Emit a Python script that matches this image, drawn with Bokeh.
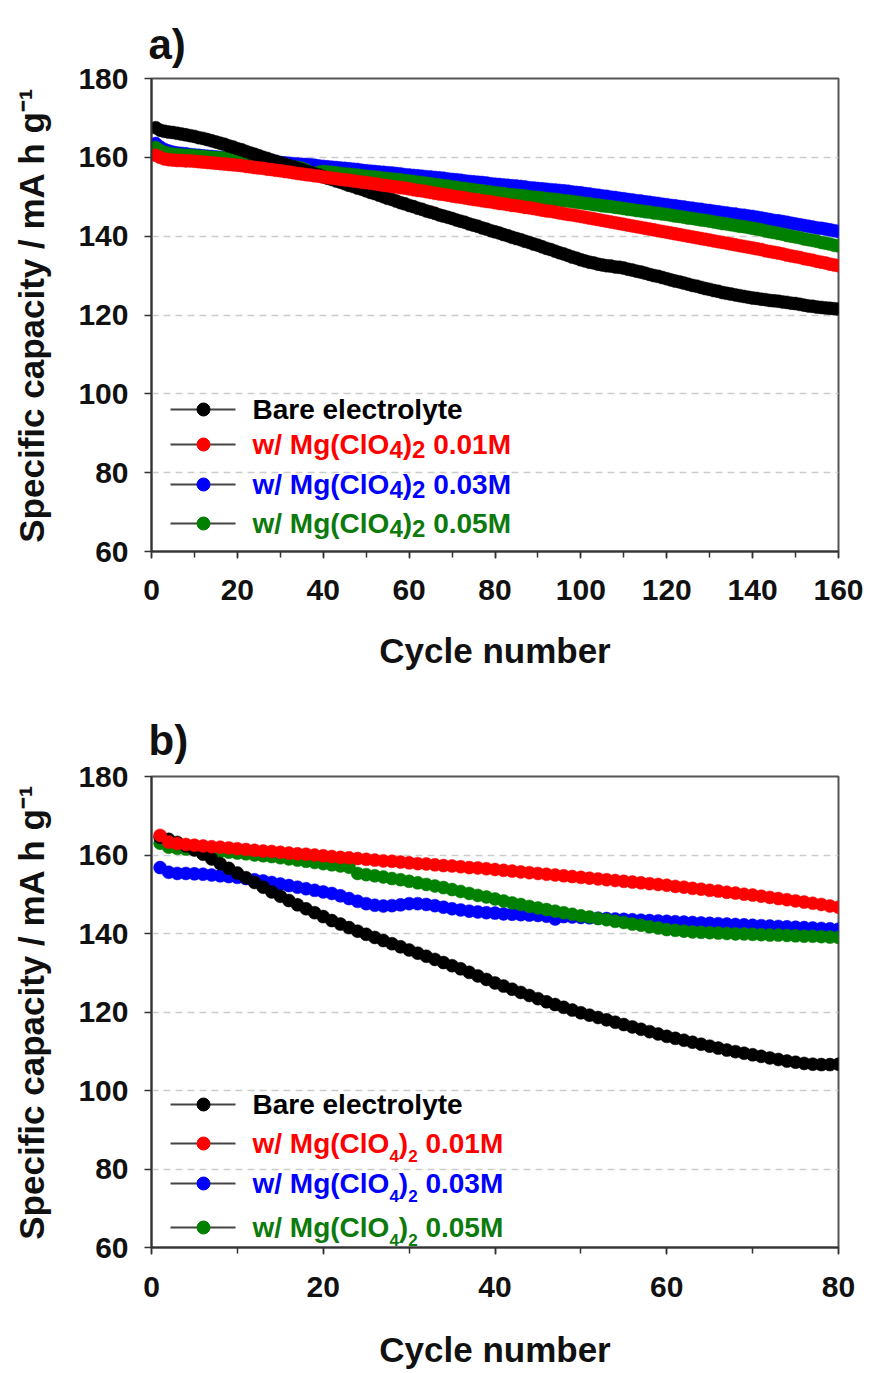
from bokeh.plotting import figure
from bokeh.layouts import column
from bokeh.models import Range1d, SingleIntervalTicker, FixedTicker, ColumnDataSource
from bokeh.core.properties import value
from bokeh.embed import file_html
from bokeh.resources import INLINE

# ---------------- data ----------------
cycles_a = list(range(1, 161))
bare_a = [
    167.5, 166.9, 166.6, 166.4, 166.3, 166.1, 165.9, 165.7, 165.5, 165.3,
    165.0, 164.8, 164.5, 164.2, 163.9, 163.6, 163.3, 162.9, 162.6, 162.2,
    161.9, 161.5, 161.1, 160.8, 160.4, 160.0, 159.7, 159.3, 159.0, 158.6,
    158.3, 157.9, 157.6, 157.2, 156.9, 156.5, 156.2, 155.8, 155.5, 155.1,
    154.7, 154.4, 154.0, 153.7, 153.3, 152.9, 152.6, 152.2, 151.9, 151.5,
    151.1, 150.8, 150.4, 150.0, 149.6, 149.3, 148.9, 148.5, 148.2, 147.8,
    147.5, 147.1, 146.8, 146.4, 146.1, 145.8, 145.4, 145.1, 144.8, 144.5,
    144.1, 143.8, 143.5, 143.1, 142.8, 142.5, 142.1, 141.8, 141.4, 141.1,
    140.8, 140.4, 140.1, 139.7, 139.4, 139.1, 138.7, 138.4, 138.0, 137.7,
    137.3, 136.9, 136.6, 136.2, 135.8, 135.5, 135.1, 134.7, 134.4, 134.0,
    133.7, 133.4, 133.2, 132.9, 132.7, 132.5, 132.4, 132.2, 132.1, 131.9,
    131.6, 131.4, 131.1, 130.9, 130.6, 130.3, 130.0, 129.8, 129.5, 129.2,
    128.9, 128.6, 128.4, 128.1, 127.8, 127.5, 127.3, 127.0, 126.7, 126.5,
    126.2, 126.0, 125.7, 125.5, 125.3, 125.1, 124.9, 124.7, 124.5, 124.3,
    124.2, 124.0, 123.9, 123.7, 123.6, 123.5, 123.3, 123.2, 123.0, 122.9,
    122.7, 122.5, 122.3, 122.2, 122.0, 121.9, 121.8, 121.7, 121.6, 121.5,
]
mg001_a = [
    160.5, 160.0, 159.6, 159.4, 159.3, 159.2, 159.2, 159.1, 159.1, 159.0,
    158.9, 158.8, 158.7, 158.6, 158.5, 158.4, 158.3, 158.2, 158.1, 158.0,
    157.9, 157.7, 157.6, 157.4, 157.3, 157.2, 157.0, 156.9, 156.7, 156.6,
    156.4, 156.3, 156.1, 155.9, 155.8, 155.6, 155.5, 155.3, 155.2, 155.0,
    154.9, 154.7, 154.6, 154.4, 154.3, 154.2, 154.0, 153.9, 153.7, 153.6,
    153.4, 153.3, 153.1, 152.9, 152.8, 152.6, 152.5, 152.3, 152.2, 152.0,
    151.8, 151.6, 151.5, 151.3, 151.1, 150.9, 150.7, 150.6, 150.4, 150.2,
    150.0, 149.9, 149.7, 149.5, 149.3, 149.2, 149.0, 148.8, 148.7, 148.5,
    148.3, 148.2, 148.0, 147.8, 147.7, 147.5, 147.3, 147.2, 147.0, 146.8,
    146.6, 146.4, 146.3, 146.1, 145.9, 145.7, 145.5, 145.4, 145.2, 145.0,
    144.8, 144.6, 144.4, 144.2, 144.0, 143.8, 143.6, 143.4, 143.2, 143.0,
    142.8, 142.6, 142.4, 142.2, 142.0, 141.8, 141.6, 141.4, 141.2, 141.0,
    140.8, 140.6, 140.4, 140.2, 140.0, 139.8, 139.6, 139.4, 139.2, 139.0,
    138.8, 138.6, 138.4, 138.2, 138.0, 137.8, 137.6, 137.4, 137.2, 137.0,
    136.8, 136.6, 136.3, 136.1, 135.9, 135.7, 135.5, 135.2, 135.0, 134.8,
    134.6, 134.3, 134.1, 133.9, 133.6, 133.4, 133.2, 132.9, 132.7, 132.5,
]
mg003_a = [
    163.5, 162.6, 162.0, 161.6, 161.3, 161.1, 161.0, 160.9, 160.7, 160.6,
    160.5, 160.4, 160.3, 160.2, 160.1, 160.0, 159.9, 159.8, 159.7, 159.6,
    159.5, 159.4, 159.3, 159.2, 159.1, 159.1, 159.0, 158.9, 158.8, 158.7,
    158.6, 158.5, 158.4, 158.3, 158.2, 158.2, 158.1, 158.0, 157.8, 157.7,
    157.6, 157.5, 157.4, 157.3, 157.2, 157.1, 157.0, 156.9, 156.7, 156.6,
    156.5, 156.4, 156.3, 156.2, 156.1, 156.0, 155.9, 155.8, 155.6, 155.5,
    155.4, 155.3, 155.2, 155.1, 155.0, 154.9, 154.8, 154.7, 154.5, 154.4,
    154.3, 154.2, 154.0, 153.9, 153.8, 153.7, 153.6, 153.5, 153.3, 153.2,
    153.1, 153.0, 152.9, 152.8, 152.7, 152.6, 152.5, 152.3, 152.2, 152.1,
    152.0, 151.9, 151.8, 151.7, 151.6, 151.5, 151.4, 151.2, 151.1, 151.0,
    150.8, 150.7, 150.5, 150.4, 150.2, 150.1, 149.9, 149.8, 149.6, 149.5,
    149.3, 149.2, 149.0, 148.9, 148.7, 148.6, 148.4, 148.3, 148.1, 148.0,
    147.8, 147.7, 147.5, 147.4, 147.2, 147.1, 146.9, 146.8, 146.6, 146.5,
    146.3, 146.2, 146.0, 145.9, 145.7, 145.6, 145.4, 145.3, 145.1, 145.0,
    144.8, 144.6, 144.4, 144.2, 144.0, 143.9, 143.7, 143.5, 143.3, 143.1,
    142.9, 142.7, 142.5, 142.3, 142.1, 142.0, 141.8, 141.6, 141.4, 141.2,
]
mg005_a = [
    162.5, 161.8, 161.3, 161.0, 160.8, 160.7, 160.6, 160.5, 160.5, 160.4,
    160.3, 160.2, 160.1, 160.0, 159.9, 159.9, 159.8, 159.7, 159.6, 159.5,
    159.4, 159.3, 159.2, 159.0, 158.9, 158.8, 158.7, 158.5, 158.4, 158.2,
    158.0, 157.8, 157.6, 157.4, 157.2, 156.8, 156.2, 155.9, 156.2, 156.4,
    156.3, 156.2, 156.1, 155.9, 155.8, 155.7, 155.6, 155.5, 155.3, 155.2,
    155.1, 155.0, 154.9, 154.7, 154.6, 154.5, 154.4, 154.3, 154.1, 154.0,
    153.9, 153.7, 153.6, 153.4, 153.3, 153.1, 153.0, 152.8, 152.7, 152.5,
    152.4, 152.2, 152.1, 151.9, 151.8, 151.6, 151.5, 151.3, 151.2, 151.0,
    150.9, 150.8, 150.6, 150.5, 150.4, 150.3, 150.2, 150.0, 149.9, 149.8,
    149.7, 149.5, 149.4, 149.3, 149.2, 149.0, 148.9, 148.8, 148.6, 148.5,
    148.3, 148.2, 148.0, 147.9, 147.7, 147.6, 147.5, 147.3, 147.2, 147.0,
    146.8, 146.7, 146.5, 146.4, 146.2, 146.1, 145.9, 145.8, 145.6, 145.5,
    145.3, 145.1, 145.0, 144.8, 144.6, 144.5, 144.3, 144.1, 144.0, 143.8,
    143.6, 143.4, 143.2, 143.1, 142.9, 142.7, 142.5, 142.4, 142.2, 142.0,
    141.8, 141.6, 141.3, 141.1, 140.9, 140.7, 140.5, 140.2, 140.0, 139.8,
    139.6, 139.3, 139.1, 138.9, 138.7, 138.4, 138.2, 138.0, 137.7, 137.5,
]

cycles_b = list(range(1, 81))
bare_b = [
    164.5, 164.0, 163.2, 162.3, 161.3, 160.2, 159.0, 157.8, 156.6, 155.4,
    154.2, 153.0, 151.8, 150.6, 149.5, 148.4, 147.3, 146.3, 145.3, 144.3,
    143.3, 142.4, 141.5, 140.6, 139.8, 139.0, 138.2, 137.4, 136.6, 135.8,
    135.0, 134.2, 133.4, 132.6, 131.8, 131.0, 130.1, 129.2, 128.3, 127.4,
    126.6, 125.8, 125.0, 124.2, 123.4, 122.6, 121.9, 121.2, 120.5, 119.8,
    119.2, 118.6, 118.0, 117.4, 116.8, 116.2, 115.6, 115.0, 114.4, 113.8,
    113.3, 112.8, 112.3, 111.8, 111.3, 110.8, 110.3, 109.9, 109.5, 109.1,
    108.7, 108.3, 107.9, 107.5, 107.2, 106.9, 106.7, 106.6, 106.6, 106.7,
]
mg001_b = [
    165.0, 163.3, 162.9, 162.7, 162.5, 162.3, 162.1, 162.0, 161.8, 161.6,
    161.4, 161.2, 161.0, 160.9, 160.7, 160.5, 160.3, 160.2, 160.0, 159.8,
    159.6, 159.4, 159.3, 159.1, 158.9, 158.7, 158.5, 158.4, 158.2, 158.0,
    157.8, 157.7, 157.5, 157.3, 157.2, 157.0, 156.8, 156.7, 156.5, 156.3,
    156.1, 155.9, 155.7, 155.5, 155.3, 155.1, 154.9, 154.7, 154.5, 154.3,
    154.1, 153.9, 153.7, 153.5, 153.3, 153.1, 152.9, 152.7, 152.5, 152.3,
    152.0, 151.8, 151.5, 151.3, 151.0, 150.8, 150.5, 150.3, 150.0, 149.8,
    149.5, 149.2, 148.9, 148.6, 148.3, 148.0, 147.7, 147.4, 147.0, 146.7,
]
mg003_b = [
    156.8, 155.6, 155.3, 155.3, 155.2, 155.1, 154.9, 154.7, 154.5, 154.3,
    154.0, 153.7, 153.4, 153.0, 152.6, 152.2, 151.8, 151.4, 151.0, 150.6,
    150.2, 149.6, 148.9, 148.2, 147.6, 147.2, 147.0, 147.1, 147.3, 147.6,
    147.6, 147.4, 147.1, 146.7, 146.3, 146.0, 145.7, 145.5, 145.3, 145.2,
    145.0, 144.9, 144.8, 144.7, 144.6, 144.4, 143.7, 144.3, 144.2, 144.1,
    144.0, 143.9, 143.8, 143.7, 143.6, 143.5, 143.4, 143.3, 143.2, 143.1,
    143.0, 142.9, 142.8, 142.7, 142.6, 142.5, 142.4, 142.3, 142.2, 142.1,
    142.0, 141.9, 141.8, 141.7, 141.6, 141.5, 141.4, 141.3, 141.2, 141.1,
]
mg005_b = [
    163.0, 162.0, 161.7, 161.5, 161.4, 161.2, 161.0, 160.9, 160.7, 160.5,
    160.3, 160.0, 159.8, 159.6, 159.3, 159.0, 158.7, 158.4, 158.1, 157.8,
    157.5, 157.2, 156.9, 155.3, 155.0, 154.7, 154.4, 154.0, 153.7, 153.3,
    152.9, 152.5, 152.1, 151.7, 151.2, 150.7, 150.2, 149.7, 149.3, 148.8,
    148.3, 147.8, 147.4, 146.9, 146.5, 146.1, 145.7, 145.3, 144.9, 144.5,
    144.2, 143.8, 143.5, 143.1, 142.8, 142.4, 142.1, 141.7, 141.4, 141.0,
    140.8, 140.6, 140.4, 140.3, 140.2, 140.1, 140.0, 139.9, 139.9, 139.8,
    139.7, 139.6, 139.6, 139.5, 139.4, 139.3, 139.3, 139.2, 139.1, 139.0,
]

series_names = ["Bare electrolyte", "w/ Mg(ClO4)2 0.01M", "w/ Mg(ClO4)2 0.03M", "w/ Mg(ClO4)2 0.05M"]
concentrations = ["0.01M", "0.03M", "0.05M"]
y_ticks = [60, 80, 100, 120, 140, 160, 180]
grid_values = [80, 100, 120, 140, 160]

# ---------------- styling ----------------
FONT = "Liberation Sans"
MARK = ["#000000", "#ff0000", "#0000ff", "#008000"]
TXT = ["#000000", "#ff0000", "#0000ff", "#0c7a0c"]
W, LEFT, RIGHT = 871, 151, 33
FRAME_W = W - LEFT - RIGHT
DRAW_ORDER = [2, 3, 0, 1]  # blue, green, black, red (red on top)


def make_panel(tag, xmax, xs, ys, fig_h, top, bottom, leg_rows_px, sub_size, sub_dy,
               title_standoff, tick_standoff, label_standoff):
    frame_h = fig_h - top - bottom
    p = figure(width=W, height=fig_h, x_range=Range1d(0, xmax), y_range=Range1d(60, 180),
               output_backend="svg", toolbar_location=None,
               min_border_left=LEFT, min_border_right=RIGHT,
               min_border_top=top, min_border_bottom=bottom,
               background_fill_color="white", border_fill_color="white")
    p.title.text = tag
    p.title.text_font = FONT
    p.title.text_font_size = "42px"
    p.title.text_font_style = "bold"
    p.title.text_color = "#111111"
    p.title.align = "left"
    p.title.standoff = title_standoff
    p.title.offset = -3

    p.outline_line_color = "#555555"
    p.outline_line_width = 2

    for ax in (p.xaxis, p.yaxis):
        ax.axis_line_color = "#333333"
        ax.axis_line_width = 2
        ax.major_tick_line_color = "#333333"
        ax.major_tick_line_width = 1.5
        ax.major_tick_in = 0
        ax.major_tick_out = 7
        ax.major_label_text_font = FONT
        ax.major_label_text_font_style = "bold"
        ax.major_label_text_font_size = "30px"
        ax.major_label_text_color = "#111111"
        ax.axis_label_text_font = FONT
        ax.axis_label_text_font_style = "bold"
        ax.axis_label_text_font_size = "35px"
        ax.axis_label_text_color = "#111111"

    p.xaxis.ticker = SingleIntervalTicker(interval=20, num_minor_ticks=2)
    p.xaxis.minor_tick_line_color = "#333333"
    p.xaxis.minor_tick_line_width = 1.5
    p.xaxis.minor_tick_in = 0
    p.xaxis.minor_tick_out = 6
    p.xaxis.major_label_standoff = tick_standoff
    p.xaxis.axis_label = "Cycle number"
    p.xaxis.axis_label_standoff = label_standoff

    p.yaxis.ticker = FixedTicker(ticks=y_ticks)
    p.yaxis.minor_tick_line_color = None
    p.yaxis.major_label_standoff = 16
    p.yaxis.axis_label = "Specific capacity / mA h g\u207b\u00b9"
    p.yaxis.axis_label_standoff = 24

    p.xgrid.visible = False
    p.ygrid.ticker = FixedTicker(ticks=grid_values)
    p.ygrid.grid_line_color = "#cccccc"
    p.ygrid.grid_line_width = 1.5
    p.ygrid.grid_line_dash = "7 5"

    for i in DRAW_ORDER:
        p.scatter(xs, ys[i], size=13, fill_color=MARK[i], line_color=MARK[i],
                  line_width=0.5)

    # legend (drawn by hand so that each label has its own colour and subscripts)
    def dx(px):
        return (px - LEFT) * xmax / FRAME_W

    def dy(py):
        return 180 - (py - top) * 120.0 / frame_h

    rows = [dy(r) for r in leg_rows_px]
    p.segment(x0=[dx(170)] * 4, x1=[dx(235)] * 4, y0=rows, y1=rows,
              line_color="#444444", line_width=2)
    p.scatter([dx(203)] * 4, rows, size=13, fill_color=MARK, line_color=MARK)

    F = 28.0
    tx = dx(252)
    cols = dict(x=[], y=[], text=[], xo=[], yo=[], fs=[], c=[])

    def add(t, xo, yo, fs, c, y):
        cols["x"].append(tx)
        cols["y"].append(y)
        cols["text"].append(t)
        cols["xo"].append(xo)
        cols["yo"].append(yo)
        cols["fs"].append("%dpx" % fs)
        cols["c"].append(c)

    add(series_names[0], 0, 0, F, TXT[0], rows[0])
    for k, conc in enumerate(concentrations):
        i = k + 1
        o4 = 4.889 * F
        op = o4 + 0.556 * sub_size
        o2 = op + 0.333 * F
        orest = o2 + 0.556 * sub_size + 0.278 * F
        add("w/ Mg(ClO", 0, 0, F, TXT[i], rows[i])
        add("4", o4, sub_dy, sub_size, TXT[i], rows[i])
        add(")", op, 0, F, TXT[i], rows[i])
        add("2", o2, sub_dy, sub_size, TXT[i], rows[i])
        add(conc, orest, 0, F, TXT[i], rows[i])

    src = ColumnDataSource(cols)
    p.text(x="x", y="y", text="text", x_offset="xo", y_offset="yo",
           text_font_size="fs", text_color="c", text_font=value(FONT),
           text_font_style="bold", text_baseline="middle", text_align="left",
           source=src)
    return p


pa = make_panel("a)", 160, cycles_a, [bare_a, mg001_a, mg003_a, mg005_a],
                690, 78, 139, [409, 444, 484, 523], 24, 5, 22, 21, 28)
pb = make_panel("b)", 80, cycles_b, [bare_b, mg001_b, mg003_b, mg005_b],
                683, 86, 126, [414, 453, 493, 537], 17, 12, 26, 22, 30)

layout = column(pa, pb, spacing=0)
open("out.html", "w").write(file_html(layout, INLINE))
